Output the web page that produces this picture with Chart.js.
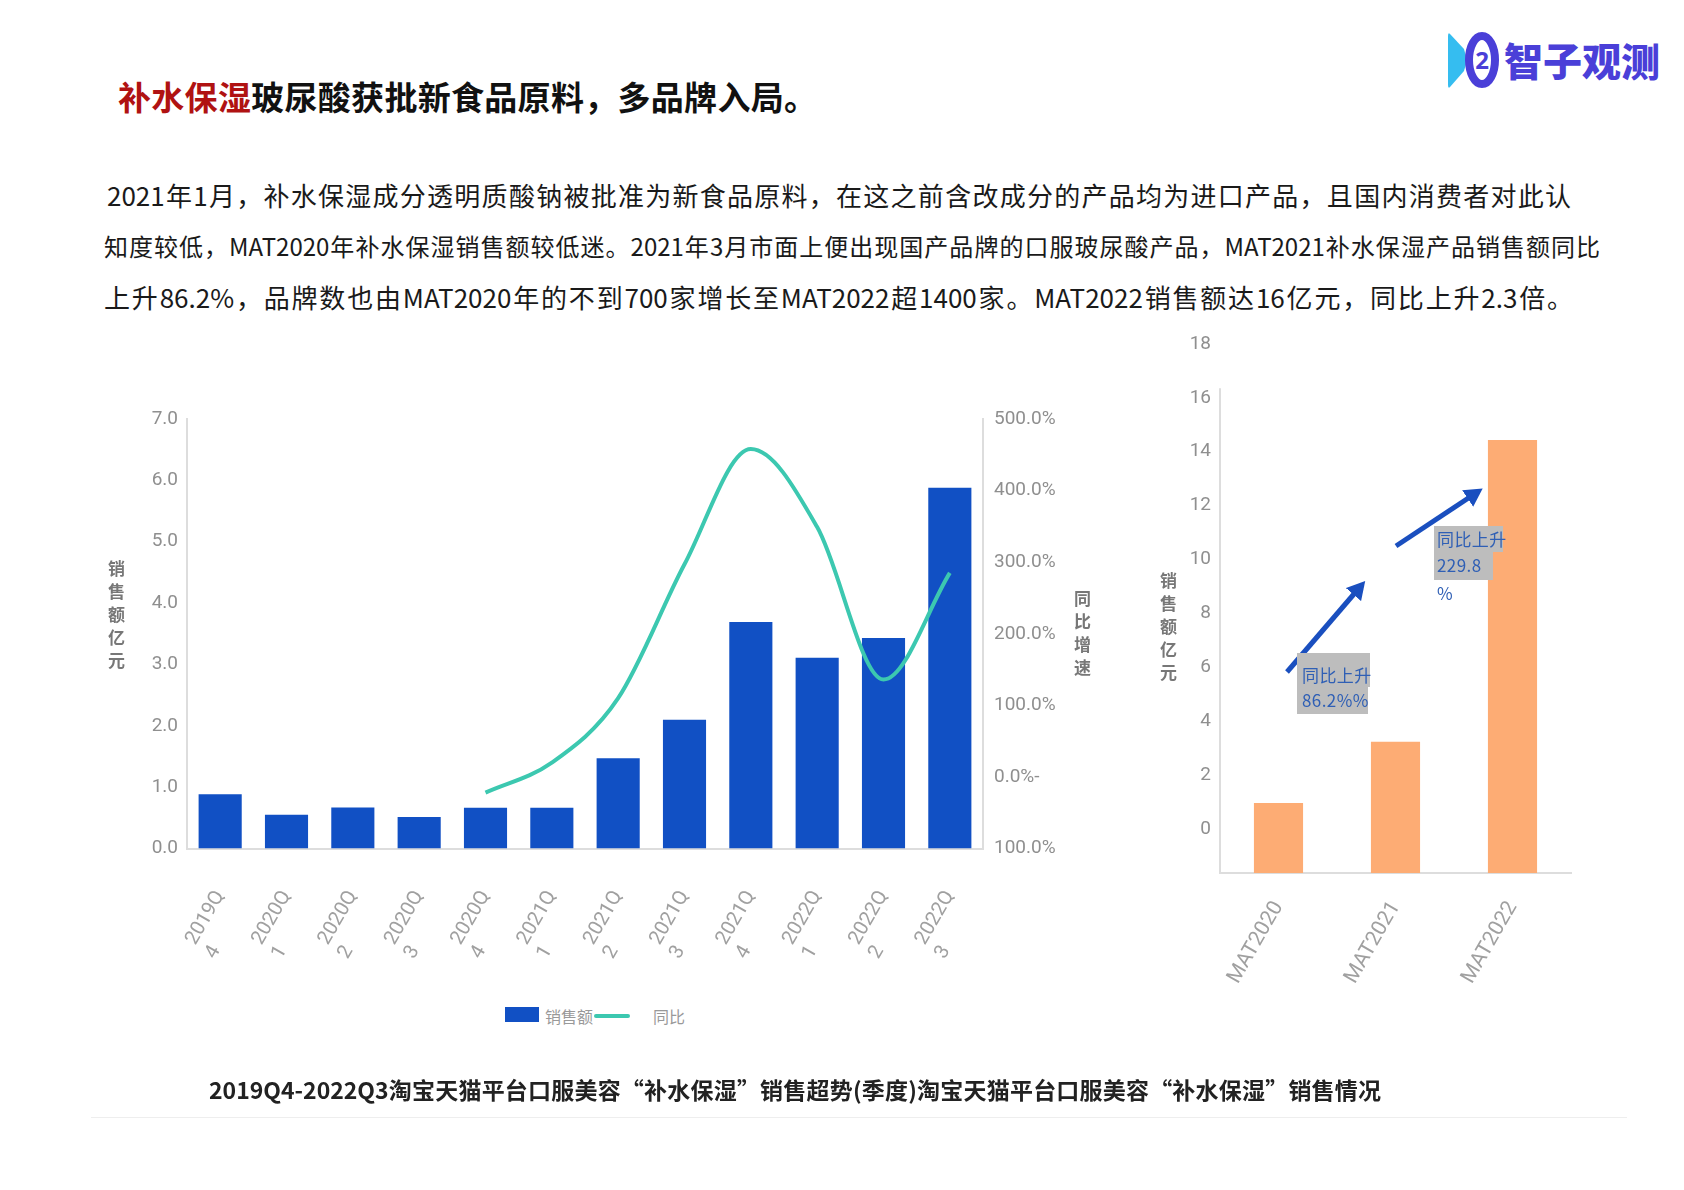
<!DOCTYPE html>
<html lang="zh">
<head>
<meta charset="utf-8">
<title>补水保湿</title>
<script src="https://cdn.jsdelivr.net/npm/chart.js@4"></script>
<style>
  html, body { margin: 0; padding: 0; background: #fff; }
  body { position: relative; width: 1684px; height: 1190px; overflow: hidden;
         font-family: "Noto Sans CJK SC", "Noto Sans", sans-serif; }
  canvas, .abs { position: absolute; }
  .title { left: 118px; top: 71px; font-size: 33px; font-weight: 700; line-height: 50px; color: #111; white-space: nowrap; letter-spacing: 0.3px; }
  .title b { color: #b01212; font-weight: 700; }
  .para { font-size: 26px; line-height: 40px; color: #1a1a1a; text-align: justify; text-align-last: justify; }
  .caption { left: 209px; top: 1071px; width: 1172px; font-size: 23px; line-height: 36px; font-weight: 700; color: #222;
             text-align: justify; text-align-last: justify; }
  .rule { left: 91px; top: 1117px; width: 1536px; height: 1px; background: #eee; }
  .axis-title { writing-mode: vertical-rl; text-orientation: upright; font-size: 17px; font-weight: 700; color: #777; letter-spacing: 6px; line-height: 20px; }
  .legend-text { font-size: 16px; line-height: 24px; color: #999; white-space: nowrap; }
  .note { font-size: 17px; line-height: 26px; color: #2f5fb5; white-space: nowrap; letter-spacing: 0.4px; }
  .note.hl { background: #bdbdbd; }
</style>
</head>
<body>
<div class="abs title"><b>补水保湿</b>玻尿酸获批新食品原料，多品牌入局。</div>

<svg class="abs" style="left:1440px;top:25px" width="230" height="75" viewBox="0 0 230 75">
  <path d="M10 9 L24 24 Q28 35 24 46 L10 62 Q8 64 8 60 L8 11 Q8 7 10 9 Z" fill="#35bdf0"/>
  <ellipse cx="42" cy="35" rx="13" ry="24" fill="none" stroke="#4a3fd8" stroke-width="8"/>
  <text x="42" y="44" font-size="24" font-weight="700" text-anchor="middle" fill="#4a3fd8" font-family="Noto Sans">2</text>
  <text x="64" y="51" font-size="39" font-weight="900" fill="#4a3fd8" font-family="Noto Sans CJK SC" textLength="156">智子观测</text>
</svg>

<div class="abs para" style="left:107px;top:175px;width:1464px">2021年1月，补水保湿成分透明质酸钠被批准为新食品原料，在这之前含改成分的产品均为进口产品，且国内消费者对此认</div>
<div class="abs para" style="left:104px;top:226px;width:1496px;font-size:24px">知度较低，MAT2020年补水保湿销售额较低迷。2021年3月市面上便出现国产品牌的口服玻尿酸产品，MAT2021补水保湿产品销售额同比</div>
<div class="abs para" style="left:104px;top:277px;width:1469px">上升86.2%，品牌数也由MAT2020年的不到700家增长至MAT2022超1400家。MAT2022销售额达16亿元，同比上升2.3倍。</div>

<canvas id="quarterChart" width="1000" height="580" style="left:100px;top:400px"></canvas>
<canvas id="matChart" width="500" height="690" style="left:1130px;top:330px"></canvas>

<div class="abs axis-title" style="left:106px;top:560px">销售额亿元</div>
<div class="abs axis-title" style="left:1072px;top:590px">同比增速</div>
<div class="abs axis-title" style="left:1158px;top:572px">销售额亿元</div>

<!-- legend -->
<div class="abs" style="left:505px;top:1007px;width:34px;height:15px;background:#1150c4"></div>
<div class="abs legend-text" style="left:545px;top:1004px">销售额</div>
<div class="abs" style="left:594px;top:1014px;width:36px;height:4px;background:#3cc8b0;border-radius:2px"></div>
<div class="abs legend-text" style="left:653px;top:1004px">同比</div>

<!-- growth arrows -->
<svg class="abs" style="left:0;top:0" width="1684" height="1190">
  <defs><marker id="head" markerWidth="4" markerHeight="4" refX="2" refY="2" orient="auto">
    <path d="M0 0 L3.6 2 L0 4 Z" fill="#1a4fbf"/></marker></defs>
  <line x1="1287" y1="672" x2="1360" y2="587" stroke="#1a4fbf" stroke-width="5" marker-end="url(#head)"/>
  <line x1="1396" y1="546" x2="1476" y2="493" stroke="#1a4fbf" stroke-width="5" marker-end="url(#head)"/>
</svg>

<div class="abs note hl" style="left:1297px;top:653px;width:73px;height:34px;line-height:44px;text-indent:5px">同比上升</div>
<div class="abs note hl" style="left:1297px;top:687px;width:71px;height:27px;text-indent:5px">86.2%%</div>
<div class="abs note hl" style="left:1434px;top:526px;width:69px;height:26px;text-indent:3px">同比上升</div>
<div class="abs note hl" style="left:1434px;top:552px;width:59px;height:28px;text-indent:3px">229.8</div>
<div class="abs note" style="left:1437px;top:580px">%</div>

<div class="abs caption">2019Q4-2022Q3淘宝天猫平台口服美容“补水保湿”销售超势(季度)淘宝天猫平台口服美容“补水保湿”销售情况</div>
<div class="abs rule"></div>

<script>
// values
const quarters = ['2019Q4', '2020Q1', '2020Q2', '2020Q3', '2020Q4', '2021Q1', '2021Q2', '2021Q3', '2021Q4', '2022Q1', '2022Q2', '2022Q3'];
const salesValues = [0.885, 0.55, 0.67, 0.515, 0.665, 0.665, 1.47, 2.1, 3.69, 3.11, 3.43, 5.88];
const yoyValues = [null, null, null, null, -22, 20, 110, 297, 458, 349, 136, 285];
const salesTicks = [0, 1, 2, 3, 4, 5, 6, 7];
const yoyTicks = [-100, 0, 100, 200, 300, 400, 500];
const yoyTickLabels = ['100.0%', '0.0%-', '100.0%', '200.0%', '300.0%', '400.0%', '500.0%'];

const matLabels = ['MAT2020', 'MAT2021', 'MAT2022'];
const matValues = [0.96, 3.23, 14.44];
const matTicks = [0, 2, 4, 6, 8, 10, 12, 14, 16, 18];
const matAxisMin = -1.64;
const matAxisLineTop = 16.36;

const TICK_FONT = { family: 'Roboto', size: 19, weight: '400' };
const ROTATED_FONT = { family: 'Roboto', size: 20, weight: '400' };
const GREY = '#8f8f8f';
const AXIS_LINE = '#ddd';

// fixes the thickness of a box so the plot area lands where it should
const fixWidth = w => scale => { scale.width = w; };
const fixHeight = h => scale => { scale.height = h; scale.paddingLeft = 0; scale.paddingRight = 0; };

/* ── Quarterly bars + yoy line ─────────────────────── */
new Chart(document.getElementById('quarterChart'), {
  data: {
    labels: quarters,
    datasets: [
      { type: 'line', label: '同比', data: yoyValues, yAxisID: 'y1', order: 0,
        borderColor: '#3cc8b0', borderWidth: 4, pointRadius: 0, cubicInterpolationMode: 'monotone' },
      { type: 'bar', label: '销售额', data: salesValues, yAxisID: 'y', order: 1,
        backgroundColor: '#1150c4', categoryPercentage: 1, barPercentage: 0.65 },
    ],
  },
  options: {
    responsive: false,
    animation: false,
    layout: { padding: { top: 19 } },
    plugins: { legend: { display: false }, tooltip: { enabled: false } },
    scales: {
      x: {
        afterFit: fixHeight(131.5),
        grid: { display: false },
        border: { color: AXIS_LINE, width: 2 },
        ticks: {
          color: '#a0a0a0', font: ROTATED_FONT, padding: 30, autoSkip: false, minRotation: 60, maxRotation: 60,
          // labels wrap after the Q; spaces keep the digit at the start of the label
          callback: (v, i) => [quarters[i].slice(0, 5), quarters[i].slice(5) + '\u00a0'.repeat(10)],
        },
      },
      y: {
        min: 0, max: 7,
        afterFit: fixWidth(87),
        afterBuildTicks: scale => { scale.ticks = salesTicks.map(value => ({ value })); },
        grid: { display: false },
        border: { color: AXIS_LINE, width: 2 },
        ticks: { color: GREY, font: TICK_FONT, padding: 1, callback: v => v.toFixed(1) },
      },
      y1: {
        position: 'right',
        min: -100, max: 500,
        afterFit: fixWidth(117),
        afterBuildTicks: scale => { scale.ticks = yoyTicks.map(value => ({ value })); },
        grid: { display: false },
        border: { color: AXIS_LINE, width: 2 },
        ticks: { color: GREY, font: TICK_FONT, padding: 3, callback: v => yoyTickLabels[yoyTicks.indexOf(v)] },
      },
    },
  },
});

/* ── MAT bars ──────────────────────────────────────── */
// the value axis line stops short of the top tick label
const shortAxisLine = {
  id: 'shortAxisLine',
  afterDraw(chart) {
    const y = chart.scales.y;
    const ctx = chart.ctx;
    ctx.save();
    ctx.strokeStyle = AXIS_LINE;
    ctx.lineWidth = 2;
    ctx.beginPath();
    ctx.moveTo(y.right, y.getPixelForValue(matAxisLineTop));
    ctx.lineTo(y.right, y.getPixelForValue(matAxisMin));
    ctx.stroke();
    ctx.restore();
  },
};

new Chart(document.getElementById('matChart'), {
  type: 'bar',
  data: {
    labels: matLabels,
    datasets: [{ label: '销售额', data: matValues, base: matAxisMin, backgroundColor: '#fdac74',
      categoryPercentage: 1, barPercentage: 0.42 }],
  },
  options: {
    responsive: false,
    animation: false,
    layout: { padding: { top: 14, right: 59 } },
    plugins: { legend: { display: false }, tooltip: { enabled: false } },
    scales: {
      x: {
        afterFit: fixHeight(147),
        grid: { display: false },
        border: { color: AXIS_LINE, width: 2 },
        ticks: { color: '#a0a0a0', font: { family: 'Roboto', size: 21, weight: '400' }, padding: 16, autoSkip: false, minRotation: 60, maxRotation: 60 },
      },
      y: {
        min: matAxisMin, max: 18,
        afterFit: fixWidth(90),
        afterBuildTicks: scale => { scale.ticks = matTicks.map(value => ({ value })); },
        grid: { display: false },
        border: { display: false },
        ticks: { color: GREY, font: TICK_FONT, padding: 1 },
      },
    },
  },
  plugins: [shortAxisLine],
});
</script>
</body>
</html>
